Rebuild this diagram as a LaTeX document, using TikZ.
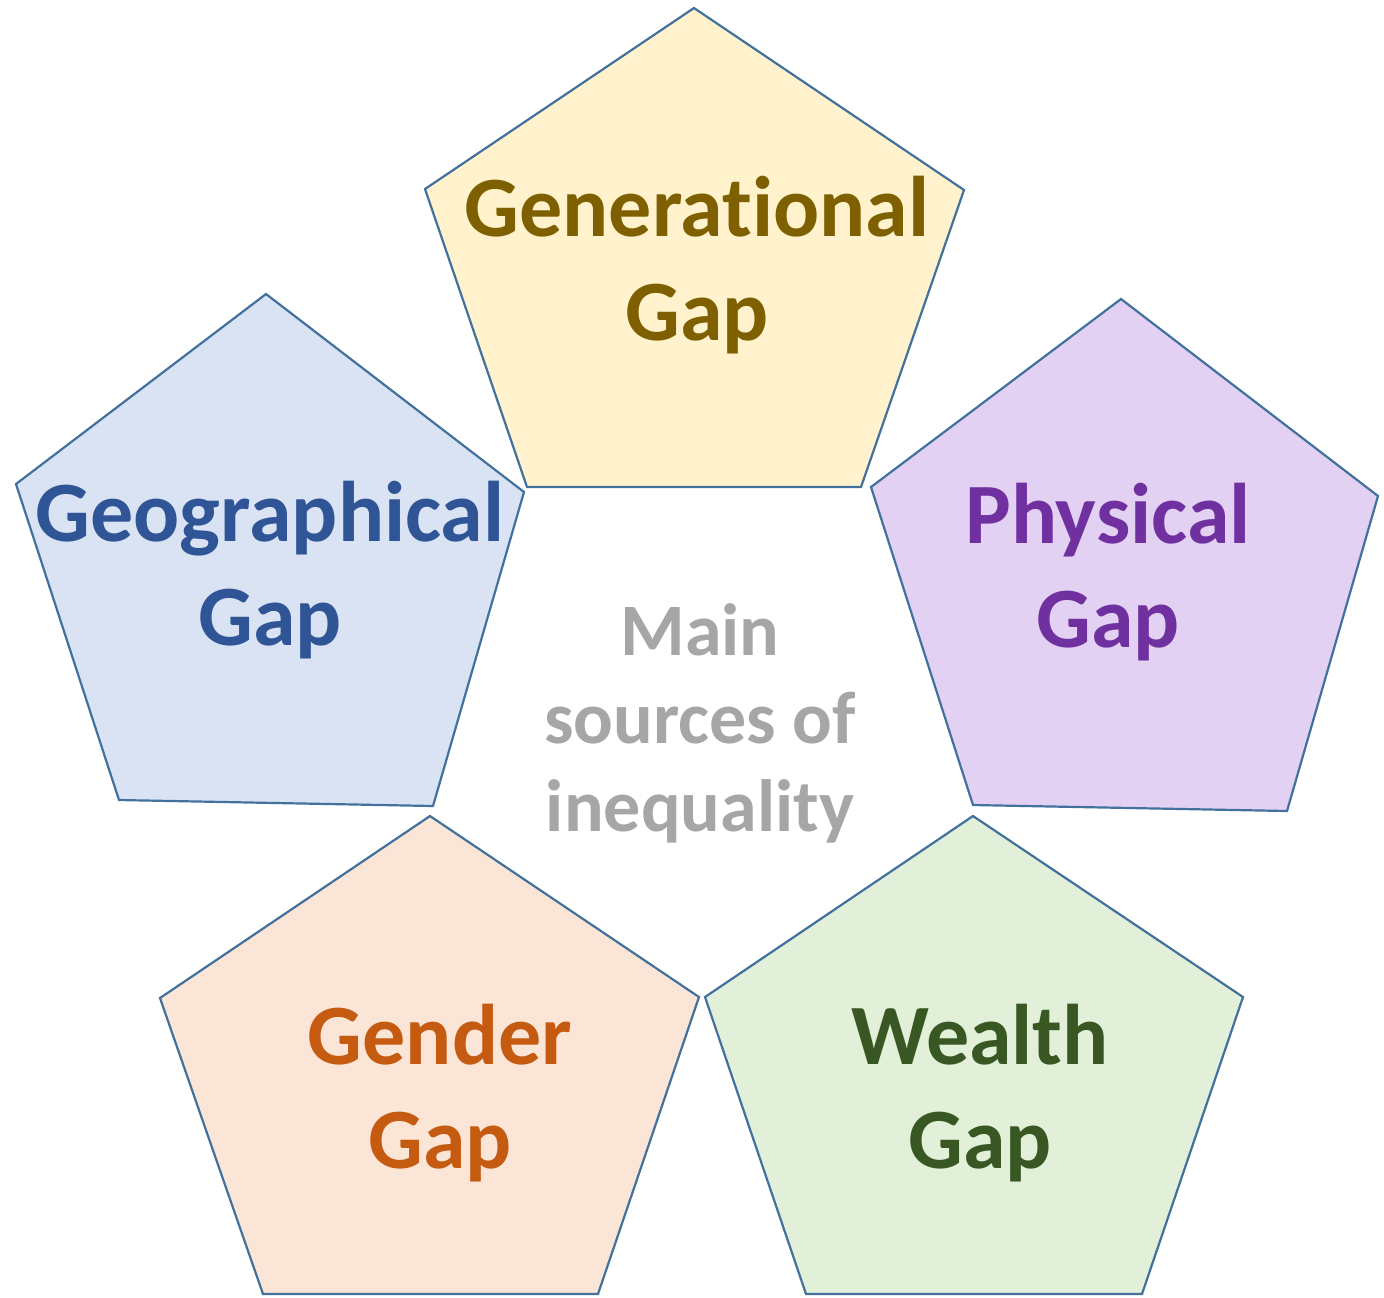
\documentclass[tikz,border=0pt]{standalone}
\usepackage{fontspec}
\setmainfont{Carlito}[Ligatures=NoCommon]
\definecolor{edge}{HTML}{41719C}
\definecolor{genfill}{HTML}{FFF2CC}\definecolor{gentext}{HTML}{7F6000}
\definecolor{geofill}{HTML}{DAE3F3}\definecolor{geotext}{HTML}{2F5597}
\definecolor{phyfill}{HTML}{E2D1F2}\definecolor{phytext}{HTML}{7030A0}
\definecolor{gndfill}{HTML}{FBE5D6}\definecolor{gndtext}{HTML}{C55A11}
\definecolor{wltfill}{HTML}{E2EFD9}\definecolor{wlttext}{HTML}{385723}
\definecolor{midtext}{HTML}{A6A6A6}
\tikzset{
  penta/.style={draw=edge, line width=1.1pt, line join=miter},
  lbl/.style={font=\fontsize{43}{52}\selectfont\bfseries, align=center, inner sep=0pt},
  midlbl/.style={font=\fontsize{37}{44}\selectfont\bfseries, align=center, inner sep=0pt, text=midtext}
}
\begin{document}
\begin{tikzpicture}[x=0.5pt,y=-0.5pt]
\useasboundingbox (0,0) rectangle (1384,1297);
% Generational
\draw[penta, fill=genfill] (694,8) -- (964,190) -- (861,487) -- (527,487) -- (425,189) -- cycle;
% Geographical
\draw[penta, fill=geofill] (266,294) -- (524,492) -- (433,806) -- (119,800) -- (16,484) -- cycle;
% Physical
\draw[penta, fill=phyfill] (1121,299) -- (1378,496) -- (1287,811) -- (973,805) -- (871,487) -- cycle;
% Gender
\draw[penta, fill=gndfill] (430,816) -- (699,997) -- (598,1294) -- (263,1294) -- (160,998) -- cycle;
% Wealth
\draw[penta, fill=wltfill] (973,816) -- (1243,997) -- (1142,1294) -- (806,1294) -- (705,997) -- cycle;

\node[lbl, text=gentext, anchor=base] (gen) at (697,340) {Generational\\Gap};
\node[lbl, text=geotext, anchor=base] (geo) at (270,645) {Geographical\\Gap};
\node[lbl, text=phytext, anchor=base] (phy) at (1108,647) {Physical\\Gap};
\node[lbl, text=gndtext, anchor=base] (gnd) at (440,1168) {Gender\\Gap};
\node[lbl, text=wlttext, anchor=base] (wlt) at (980,1168) {Wealth\\Gap};
\node[midlbl, anchor=base] (mid) at (700,831) {Main\\sources of\\inequality};
\end{tikzpicture}
\end{document}
